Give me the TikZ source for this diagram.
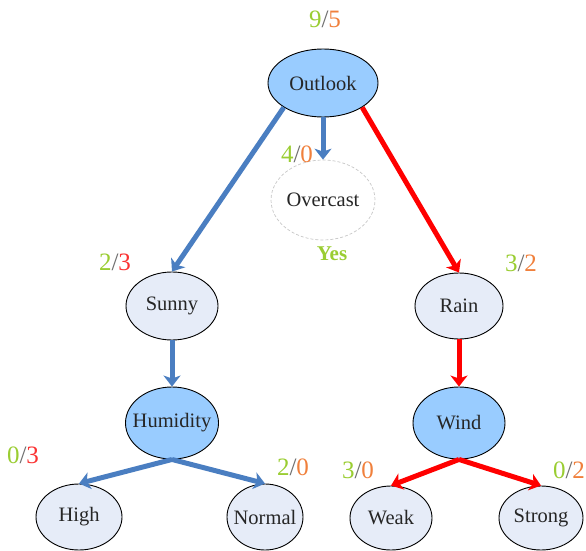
\documentclass[tikz,border=0pt]{standalone}
\usepackage{fontspec}
\setmainfont{Liberation Serif}
\usetikzlibrary{shapes.geometric,arrows.meta}
\definecolor{eblue}{RGB}{74,126,193}
\definecolor{ered}{RGB}{255,0,0}
\definecolor{darkfill}{RGB}{153,204,255}
\definecolor{lightfill}{RGB}{230,236,248}
\definecolor{cgreen}{RGB}{154,205,50}
\definecolor{corange}{RGB}{240,128,60}
\definecolor{cred}{RGB}{250,50,50}
\definecolor{cslash}{RGB}{110,110,110}
\newcommand{\cnt}[3]{\textcolor{cgreen}{#1}\textcolor{cslash}{/}\textcolor{#3}{#2}}
\begin{document}
\begin{tikzpicture}[x=1pt,y=-1pt,
  nodefont/.style={font=\fontsize{20.5}{24}\selectfont,text=black!85},
  attr/.style={ellipse,draw=black,line width=0.9pt,fill=darkfill},
  val/.style={ellipse,draw=black,line width=0.9pt,fill=lightfill},
  leaf/.style={ellipse,draw=black!22,densely dashed,line width=0.7pt,fill=white},
  cnt/.style={font=\fontsize{25}{28}\selectfont,inner sep=0pt},
  yeslab/.style={font=\fontsize{21}{24}\selectfont\bfseries,text=cgreen,inner sep=0pt},
  blueedge/.style={draw=eblue,line width=5pt,-{Stealth[length=11pt,width=17pt,inset=3pt]}},
  rededge/.style={draw=ered,line width=5pt,-{Stealth[length=11pt,width=17pt,inset=3pt]}}
]
\useasboundingbox (0,0) rectangle (586,551);
% nodes
\node[attr,minimum width=110,minimum height=68,label={[nodefont]center:Outlook}] (outlook) at (323,83) {};
\node[leaf,minimum width=104,minimum height=80,label={[nodefont]center:Overcast}] (overcast) at (323,200) {};
\node[val,minimum width=92,minimum height=68,label={[nodefont]center:Sunny}] (sunny) at (172,306) {};
\node[val,minimum width=88,minimum height=66,label={[nodefont]center:Rain}] (rain) at (459,306) {};
\node[attr,minimum width=93,minimum height=72,label={[nodefont]center:Humidity}] (humidity) at (172,423) {};
\node[attr,minimum width=92,minimum height=72,label={[nodefont]center:Wind}] (wind) at (459,423) {};
\node[val,minimum width=86,minimum height=66,label={[nodefont]center:High}] (high) at (79,517) {};
\node[val,minimum width=76,minimum height=66,label={[nodefont]center:Normal}] (normal) at (265,517) {};
\node[val,minimum width=82,minimum height=64,label={[nodefont]center:Weak}] (weak) at (391,518) {};
\node[val,minimum width=84,minimum height=64,label={[nodefont]center:Strong}] (strong) at (541,518) {};
% count labels
\node[cnt] (c95) at (325,19) {\cnt{9}{5}{corange}};
\node[cnt] (c40) at (297,154) {\cnt{4}{0}{corange}};
\node[yeslab] (yes) at (332,254) {Yes};
\node[cnt] (c23) at (115,262) {\cnt{2}{3}{cred}};
\node[cnt] (c32) at (521,263) {\cnt{3}{2}{corange}};
\node[cnt] (c03) at (23,455) {\cnt{0}{3}{cred}};
\node[cnt] (c20) at (293,467) {\cnt{2}{0}{corange}};
\node[cnt] (c30) at (358,470) {\cnt{3}{0}{corange}};
\node[cnt] (c02) at (569,470) {\cnt{0}{2}{corange}};
% edges
\draw[blueedge] (outlook.south west) -- (sunny.north);
\draw[blueedge] (outlook.south) -- (overcast.north);
\draw[rededge] (outlook.south east) -- (rain.north);
\draw[blueedge] (sunny.south) -- (humidity.north);
\draw[rededge] (rain.south) -- (wind.north);
\draw[blueedge] (humidity.south) -- (high.north);
\draw[blueedge] (humidity.south) -- (normal.north);
\draw[rededge] (wind.south) -- (weak.north);
\draw[rededge] (wind.south) -- (strong.north);
\end{tikzpicture}
\end{document}
